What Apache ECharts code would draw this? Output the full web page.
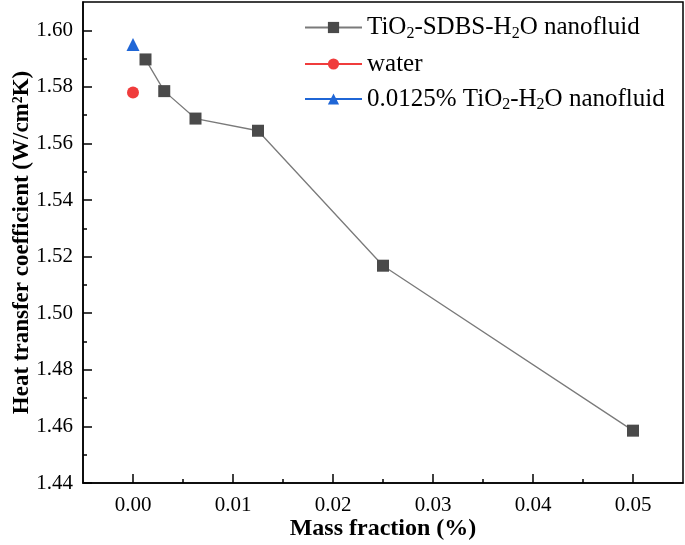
<!DOCTYPE html>
<html>
<head>
<meta charset="utf-8">
<script src="https://cdn.jsdelivr.net/npm/echarts@6/dist/echarts.min.js"></script>
<style>
html,body{margin:0;padding:0;background:#fff;}
#chart{width:685px;height:545px;}
</style>
</head>
<body>
<div id="chart"></div>
<script>
// ---- data ----
const massFraction = [0.00125, 0.003125, 0.00625, 0.0125, 0.025, 0.05];
const sdbsHTC = [1.5897, 1.5785, 1.5688, 1.5645, 1.5168, 1.4585];
const waterX = [0];
const waterHTC = [1.578];
const tio2X = [0];
const tio2HTC = [1.595];
const xMajorTicks = [0, 0.01, 0.02, 0.03, 0.04, 0.05];
const xMinorTicks = [0.005, 0.015, 0.025, 0.035, 0.045];
const yMajorTicks = [1.44, 1.46, 1.48, 1.50, 1.52, 1.54, 1.56, 1.58, 1.60];
const yMinorTicks = [1.45, 1.47, 1.49, 1.51, 1.53, 1.55, 1.57, 1.59];
const seriesNames = ['sdbs', 'water', 'tio2'];

const FONT = '"Liberation Serif", "Times New Roman", serif';
const rich = {
  n: {fontFamily: FONT, fontSize: 25, color: '#000'},
  sub: {fontFamily: FONT, fontSize: 16, color: '#000', verticalAlign: 'bottom', padding: [12, 0, 0, 0]}
};
const legendLabels = {
  sdbs: '{n|TiO}{sub|2}{n|-SDBS-H}{sub|2}{n|O nanofluid}',
  water: '{n|water}',
  tio2: '{n|0.0125% TiO}{sub|2}{n|-H}{sub|2}{n|O nanofluid}'
};

const zip = (xs, ys) => xs.map((x, i) => [x, ys[i]]);

const chart = echarts.init(document.getElementById('chart'), null, {renderer: 'canvas'});
const xCommon = {type: 'value', min: -0.005, max: 0.055, gridIndex: 0, splitLine: {show: false}, position: 'bottom'};
const yCommon = {type: 'value', min: 1.44, max: 1.61, gridIndex: 0, splitLine: {show: false}, position: 'left'};
const tickStyle = {color: '#000', width: 1.5};
chart.setOption({
  animation: false,
  backgroundColor: '#fff',
  grid: {left: 83, right: 2, top: 2, bottom: 62, outerBoundsMode: 'none', containLabel: false,
         show: true, borderColor: '#000', borderWidth: 1.5, backgroundColor: 'transparent'},
  legend: {
    orient: 'vertical',
    left: 299, top: 10,
    itemWidth: 57, itemHeight: 14, itemGap: 10,
    data: seriesNames,
    formatter: n => legendLabels[n],
    textStyle: {fontFamily: FONT, fontSize: 25, color: '#000', rich: rich}
  },
  xAxis: [
    Object.assign({}, xCommon, {
      name: 'Mass fraction (%)', nameLocation: 'middle', nameGap: 34, nameMoveOverlap: false,
      nameTextStyle: {fontFamily: FONT, fontSize: 24, fontWeight: 'bold', color: '#000'},
      axisLine: {show: true, onZero: false, lineStyle: {color: '#000', width: 1.5}},
      axisTick: {show: true, inside: true, length: 9, customValues: xMajorTicks, lineStyle: tickStyle},
      axisLabel: {show: true, margin: 12, customValues: xMajorTicks, formatter: v => v.toFixed(2), fontFamily: FONT, fontSize: 21, color: '#000'}
    }),
    Object.assign({}, xCommon, {
      axisLine: {show: false, onZero: false},
      axisTick: {show: true, inside: true, length: 4, customValues: xMinorTicks, lineStyle: tickStyle},
      axisLabel: {show: false}
    })
  ],
  yAxis: [
    Object.assign({}, yCommon, {
      name: 'Heat transfer coefficient (W/cm²K)', nameLocation: 'middle', nameGap: 49, nameMoveOverlap: false,
      nameTextStyle: {fontFamily: FONT, fontSize: 23, fontWeight: 'bold', color: '#000'},
      axisLine: {show: true, onZero: false, lineStyle: {color: '#000', width: 1.5}},
      axisTick: {show: true, inside: true, length: 9, customValues: yMajorTicks, lineStyle: tickStyle},
      axisLabel: {show: true, margin: 10, customValues: yMajorTicks, formatter: v => v.toFixed(2), fontFamily: FONT, fontSize: 21, color: '#000'}
    }),
    Object.assign({}, yCommon, {
      axisLine: {show: false, onZero: false},
      axisTick: {show: true, inside: true, length: 4, customValues: yMinorTicks, lineStyle: tickStyle},
      axisLabel: {show: false}
    })
  ],
  series: [
    {
      name: 'sdbs', type: 'line', xAxisIndex: 0, yAxisIndex: 0,
      data: zip(massFraction, sdbsHTC),
      symbol: 'rect', symbolSize: 12,
      lineStyle: {color: '#7a7a7a', width: 1.3},
      itemStyle: {color: '#4a4a4a'}
    },
    {
      name: 'water', type: 'line', xAxisIndex: 0, yAxisIndex: 0,
      data: zip(waterX, waterHTC),
      symbol: 'circle', symbolSize: 12,
      lineStyle: {color: '#f03c3c', width: 1.3},
      itemStyle: {color: '#f03c3c'}
    },
    {
      name: 'tio2', type: 'line', xAxisIndex: 0, yAxisIndex: 0,
      data: zip(tio2X, tio2HTC),
      symbol: 'triangle', symbolSize: 13,
      lineStyle: {color: '#1f66d6', width: 1.3},
      itemStyle: {color: '#1f66d6'}
    }
  ]
});
</script>
</body>
</html>
